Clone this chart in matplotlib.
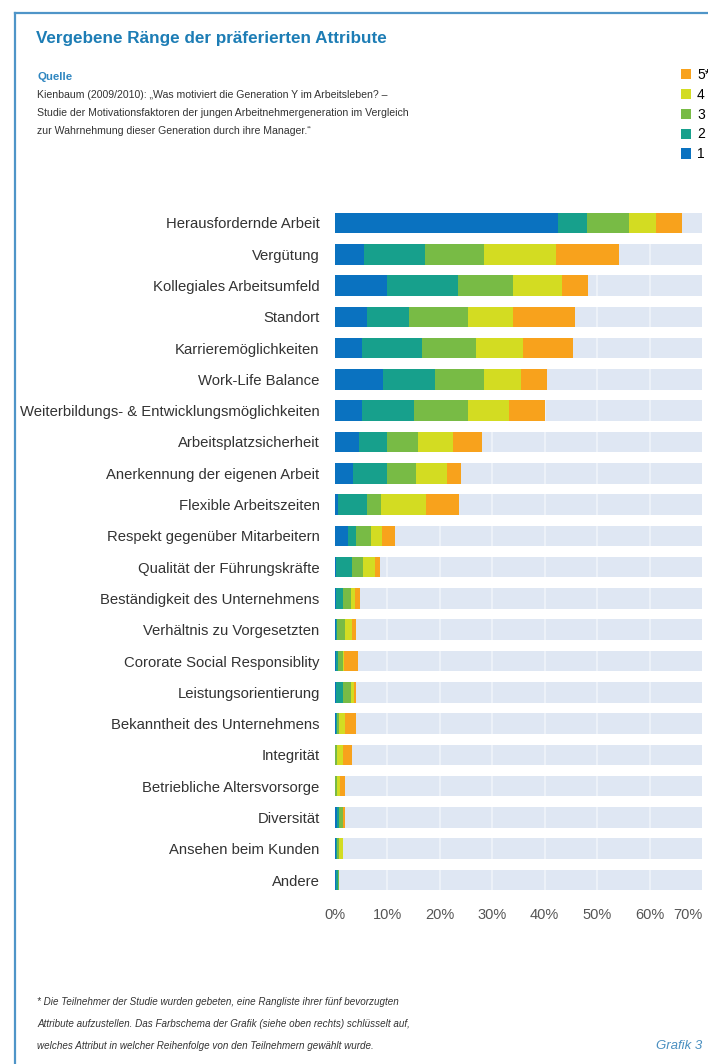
import matplotlib
matplotlib.use("Agg")
import matplotlib.pyplot as plt
from matplotlib.patches import Patch
from matplotlib.lines import Line2D
import numpy as np

plt.rcParams['font.family'] = ['Liberation Sans', 'DejaVu Sans']

categories = [
    "Herausfordernde Arbeit", "Vergütung", "Kollegiales Arbeitsumfeld", "Standort",
    "Karrieremöglichkeiten", "Work-Life Balance", "Weiterbildungs- & Entwicklungsmöglichkeiten",
    "Arbeitsplatzsicherheit", "Anerkennung der eigenen Arbeit", "Flexible Arbeitszeiten",
    "Respekt gegenüber Mitarbeitern", "Qualität der Führungskräfte", "Beständigkeit des Unternehmens",
    "Verhältnis zu Vorgesetzten", "Cororate Social Responsiblity", "Leistungsorientierung",
    "Bekanntheit des Unternehmens", "Integrität", "Betriebliche Altersvorsorge", "Diversität",
    "Ansehen beim Kunden", "Andere",
]

rank1 = [42.6, 5.5, 9.9, 6.1, 5.1, 9.2, 5.1, 4.5, 3.5, 0.6, 2.5, 0.2, 0.2, 0.1, 0.1, 0.1, 0.2, 0.0, 0.0, 0.3, 0.1, 0.1]
rank2 = [5.5, 11.6, 13.5, 8.0, 11.5, 9.9, 9.9, 5.4, 6.4, 5.5, 1.5, 3.0, 1.3, 0.2, 0.5, 1.5, 0.1, 0.0, 0.0, 0.5, 0.3, 0.4]
rank3 = [7.9, 11.3, 10.6, 11.2, 10.2, 9.3, 10.3, 6.0, 5.6, 2.6, 2.8, 2.2, 1.5, 1.6, 0.9, 1.4, 0.5, 0.4, 0.3, 0.7, 0.4, 0.3]
rank4 = [5.2, 13.8, 9.3, 8.6, 9.0, 7.0, 7.8, 6.7, 5.9, 8.7, 2.1, 2.2, 0.8, 1.3, 0.2, 0.6, 1.1, 1.1, 0.7, 0.0, 0.8, 0.0]
rank5 = [5.0, 12.0, 5.0, 11.9, 9.5, 5.1, 6.9, 5.4, 2.6, 6.2, 2.6, 0.9, 1.0, 0.9, 2.6, 0.5, 2.2, 1.7, 0.9, 0.4, 0.0, 0.0]

rank_labels = ["1", "2", "3", "4", "5*"]
colors = ["#0a72c0", "#17a08c", "#78bb45", "#d3dc22", "#f8a21c"]
xticks = [0, 10, 20, 30, 40, 50, 60, 70]
xmax = 70

W, H = 708, 1064
fig = plt.figure(figsize=(W / 100, H / 100), dpi=100)
fig.patch.set_facecolor("white")

# axes geometry (pixels)
x0, x70 = 335, 702
row_top, row_bot = 223, 880
n = len(categories)
step = (row_bot - row_top) / (n - 1)
ax_top = row_top - step / 2
ax_bot = row_bot + step / 2
ax = fig.add_axes([x0 / W, 1 - ax_bot / H, (x70 - x0) / W, (ax_bot - ax_top) / H])

y = np.arange(n)
bh = 0.66
ax.barh(y, [xmax] * n, height=bh, color="#dfe7f3", zorder=1)
for t in xticks[1:-1]:
    ax.axvline(t, color="white", lw=1.2, alpha=0.5, zorder=2)

left = np.zeros(n)
for vals, c, lab in zip([rank1, rank2, rank3, rank4, rank5], colors, rank_labels):
    ax.barh(y, vals, left=left, height=bh, color=c, zorder=3, label=lab)
    left += np.array(vals)

ax.set_xlim(0, xmax)
ax.set_ylim(n - 0.5, -0.5)
ax.set_yticks(y)
ax.set_yticklabels(categories, fontsize=10.7, color="#333333")
ax.set_xticks(xticks)
ax.set_xticklabels([f"{t}%" for t in xticks], fontsize=10.5, color="#555555")
ax.get_xticklabels()[-1].set_horizontalalignment("right")
ax.get_xticklabels()[-1].set_x(xmax + 0.8)
ax.tick_params(axis="both", length=0)
ax.tick_params(axis="y", pad=11)
ax.tick_params(axis="x", pad=9)
for s in ax.spines.values():
    s.set_visible(False)
ax.set_facecolor("none")

# frame lines
border = "#4f95c8"
fig.add_artist(Line2D([15 / W, 15 / W], [0, 1 - 13 / H], color=border, lw=1.6, transform=fig.transFigure))
fig.add_artist(Line2D([15 / W, 1], [1 - 13 / H, 1 - 13 / H], color=border, lw=1.6, transform=fig.transFigure))

# title and source
fig.text(36 / W, 1 - 38 / H, "Vergebene Ränge der präferierten Attribute", fontsize=12.3, fontweight="bold",
         color="#1d7db5", va="center", ha="left")
fig.text(37 / W, 1 - 77 / H, "Quelle", fontsize=8.2, fontweight="bold", color="#2f86c0", va="center")
src = ["Kienbaum (2009/2010): „Was motiviert die Generation Y im Arbeitsleben? –",
       "Studie der Motivationsfaktoren der jungen Arbeitnehmergeneration im Vergleich",
       "zur Wahrnehmung dieser Generation durch ihre Manager.“"]
for i, line in enumerate(src):
    fig.text(37 / W, 1 - (95 + 18.2 * i) / H, line, fontsize=7.6, color="#333333", va="center")

# legend
handles = [Patch(facecolor=c, edgecolor="none") for c in colors][::-1]
fig.legend(handles, rank_labels[::-1], loc="upper left", bbox_to_anchor=(681 / W, 1 - 68 / H),
           frameon=False, fontsize=10, handlelength=0.75, handleheight=0.75, handletextpad=0.4,
           labelspacing=0.42, borderpad=0, borderaxespad=0)

# footnote
foot = ["* Die Teilnehmer der Studie wurden gebeten, eine Rangliste ihrer fünf bevorzugten",
        "Attribute aufzustellen. Das Farbschema der Grafik (siehe oben rechts) schlüsselt auf,",
        "welches Attribut in welcher Reihenfolge von den Teilnehmern gewählt wurde."]
for i, line in enumerate(foot):
    fig.text(37 / W, 1 - (1002 + 22 * i) / H, line, fontsize=7.1, style="italic", color="#333333", va="center")
fig.text(656 / W, 1 - 1046 / H, "Grafik 3", fontsize=9.5, style="italic", color="#4a8fc0", va="center")

fig.savefig("out.png", dpi=100)
